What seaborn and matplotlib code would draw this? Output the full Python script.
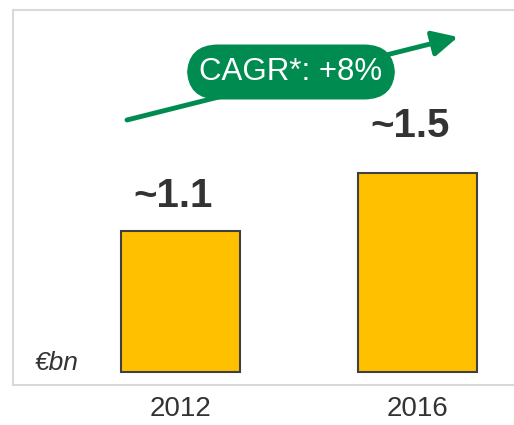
import matplotlib
matplotlib.use("Agg")
import pandas as pd
import seaborn as sns
import matplotlib.pyplot as plt

# values
years = ["2012", "2016"]
values = [1.1, 1.55]
value_labels = ["~1.1", "~1.5"]
cagr_label = "CAGR*: +8%"
unit_label = "€bn"

BAR = "#FFC000"
GREEN = "#008C50"
TEXT = "#333333"
FRAME = "#D9D9D9"

sns.set_style("white")
plt.rcParams["font.family"] = ["Liberation Sans", "DejaVu Sans"]

df = pd.DataFrame({"year": years, "value": values})

fig = plt.figure(figsize=(5.14, 4.25), dpi=100)
ax = fig.add_axes([13 / 514, 1 - 385 / 425, 1 - 13 / 514, (385 - 10) / 425])

sns.barplot(data=df, x="year", y="value", color=BAR, width=0.503,
            edgecolor="#404040", linewidth=1.5, saturation=1, ax=ax)

ax.set_xlim(-0.708, 1.41)
ax.set_ylim(-0.101, 2.824)
ax.set_xlabel("")
ax.set_ylabel("")
ax.set_yticks([])
ax.tick_params(axis="x", length=0, pad=8, labelsize=20, labelcolor=TEXT)

for side in ["top", "left", "bottom"]:
    ax.spines[side].set_color(FRAME)
    ax.spines[side].set_linewidth(1.5)
ax.spines["right"].set_visible(False)

# value labels above bars
pads = [0.19, 0.28]
for i, (v, lab) in enumerate(zip(values, value_labels)):
    ax.text(i - 0.03, v + pads[i], lab, ha="center", va="baseline",
            fontsize=29, fontweight="bold", color=TEXT)

ax.text(35 / 514, 1 - 370 / 425, unit_label, transform=fig.transFigure,
        fontsize=19, style="italic", color=TEXT, va="baseline", ha="left")

# growth arrow + CAGR pill
ax.annotate("", xy=(458 / 514, 1 - 37 / 425), xytext=(127 / 514, 1 - 120 / 425),
            xycoords="figure fraction", textcoords="figure fraction",
            arrowprops=dict(arrowstyle="-|>,head_length=0.9,head_width=0.45",
                            color=GREEN, lw=3.5, mutation_scale=17,
                            shrinkA=0, shrinkB=0))
fig.text(291 / 514, 1 - 72 / 425, cagr_label, ha="center", va="center",
         fontsize=22.5, color="white",
         bbox=dict(boxstyle="round,pad=0.4,rounding_size=1.0", fc=GREEN, ec="none"))

fig.savefig("out.png", dpi=100)
